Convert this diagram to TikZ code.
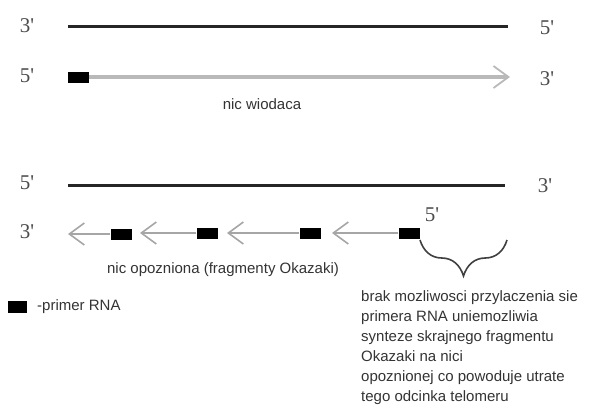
\documentclass[tikz,border=0pt]{standalone}
\usepackage{fontspec}
\setmainfont{Liberation Sans}
\newfontfamily\endfont{Liberation Serif}
\usetikzlibrary{arrows.meta, decorations.pathreplacing}
\tikzset{
  strand/.style={line width=3pt, black!85},
  lead/.style={line width=3.5pt, gray!55, -{Straight Barb[length=15pt, width=22pt, line width=1.8pt]}},
  lag/.style={line width=2pt, gray!70, -{Straight Barb[length=15pt, width=22pt, line width=1.6pt]}},
  primer/.style={rectangle, fill=black, minimum width=21pt, minimum height=11pt, inner sep=0pt},
  endlab/.style={font=\endfont\fontsize{21}{24}\selectfont, text=black!70, inner sep=0pt},
  note/.style={font=\fontsize{15}{20}\selectfont, text=black!80, inner sep=0pt},
}
\begin{document}
\begin{tikzpicture}[x=1pt, y=-1pt]
  \useasboundingbox (0,0) rectangle (592,405);

  % matrycowa nic (gora)
  \node[endlab] (a3) at (27,26) {3'};
  \node[endlab] (a5) at (547,28) {5'};
  \coordinate (as) at (68,26);
  \coordinate (ae) at (508,26);
  \draw[strand] (as) -- (ae);

  % nic wiodaca
  \node[endlab] (b5) at (27,76) {5'};
  \node[endlab] (b3) at (547,79) {3'};
  \node[primer] (lp) at (78.5,77) {};
  \coordinate (bt) at (510,77);
  \draw[lead] (lp.east) -- (bt);
  \node[note] (lead) at (262,104) {nic wiodaca};

  % matrycowa nic (dol)
  \node[endlab] (c5) at (27,183) {5'};
  \node[endlab] (c3) at (545,186) {3'};
  \coordinate (cs) at (68,185);
  \coordinate (ce) at (505,185);
  \draw[strand] (cs) -- (ce);

  % nic opozniona
  \node[endlab] (d3) at (27,232) {3'};
  \node[endlab] (d5) at (432,215) {5'};
  \node[primer] (p1) at (121,234) {};
  \node[primer] (p2) at (207,233) {};
  \node[primer] (p3) at (310,233) {};
  \node[primer] (p4) at (409,233) {};
  \coordinate (t1) at (68,234);
  \coordinate (t2) at (140,233);
  \coordinate (t3) at (227,233);
  \coordinate (t4) at (332,233);
  \draw[lag] (p1.west) -- (t1);
  \draw[lag] (p2.west) -- (t2);
  \draw[lag] (p3.west) -- (t3);
  \draw[lag] (p4.west) -- (t4);
  \node[note] (lag) at (223,270) {nic opozniona (fragmenty Okazaki)};

  % klamra
  \coordinate (k1) at (420,240);
  \coordinate (k2) at (507,240);
  \draw[line width=1.6pt, black!75, decorate, decoration={brace, amplitude=36pt}] (k2) -- (k1);

  % legenda
  \node[primer, minimum width=19pt, minimum height=12pt] (leg) at (17.5,307) {};
  \node[note, anchor=west] (legtxt) at (37,307) {-primer RNA};

  % opis
  \node[note, anchor=north west, align=left] (info) at (361,290)
    {brak mozliwosci przylaczenia sie\\primera RNA uniemozliwia\\synteze skrajnego fragmentu\\Okazaki na nici\\opoznionej co powoduje utrate\\tego odcinka telomeru};
\end{tikzpicture}
\end{document}
